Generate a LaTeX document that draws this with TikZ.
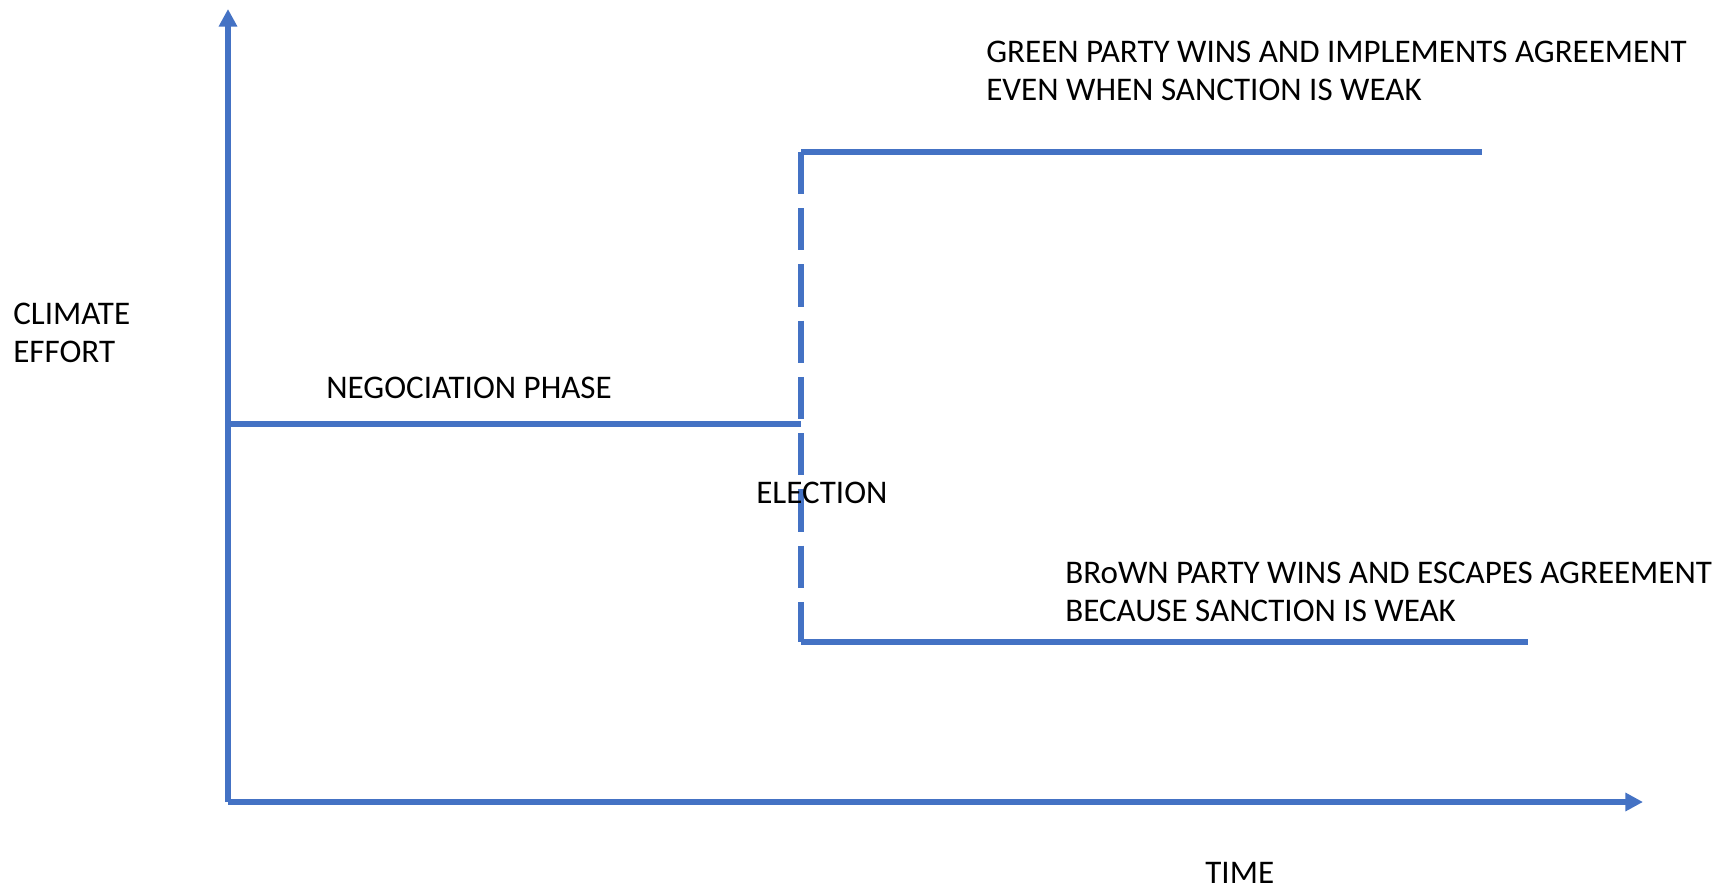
\documentclass[tikz,border=0pt]{standalone}
\usepackage{fontspec}
\setmainfont{Carlito}
\usepackage{tikz}
\usetikzlibrary{arrows.meta}
\usetikzlibrary{positioning}

\definecolor{effortblue}{HTML}{4472C4}

\begin{document}
\begin{tikzpicture}[x=0.02cm, y=-0.02cm,
    line/.style={draw=effortblue, line width=3.5pt},
    label/.style={anchor=west, align=left, inner sep=0pt, font=\fontsize{18.8}{21.8}\selectfont}]

        % Frame of the picture
        \useasboundingbox (0, 0) rectangle (1715, 889);

        % Election time on the time axis
        \def\telect{801}

        % Effort levels
        \def\negot{424}
        \def\green{152}
        \def\brown{642}

        % Axes
        \coordinate (origin) at (228, 802);
        \coordinate (ytop) at (228, 9);
        \coordinate (xend) at (1643, 802);
        \draw[line, -{Triangle[length=10pt, width=10pt]}] (origin) -- (ytop);
        \draw[line, -{Triangle[length=10pt, width=10pt]}] (origin) -- (xend);

        % Negociation phase
        \coordinate (n0) at (228, \negot);
        \coordinate (n1) at (\telect, \negot);
        \draw[line] (n0) -- (n1);

        % Election splits into the two outcomes
        \coordinate (g0) at (\telect, \green);
        \coordinate (g1) at (1482, \green);
        \coordinate (b0) at (\telect, \brown);
        \coordinate (b1) at (1528, \brown);
        \draw[line, dash pattern=on 24pt off 8pt] (g0) -- (b0);
        \draw[line] (g0) -- (g1);
        \draw[line] (b0) -- (b1);

        % Labels
        \node[label] (yname) at (13, 333) {CLIMATE\\EFFORT};
        \node[label] (negname) at (326, 388) {NEGOCIATION PHASE};
        \node[label] (elecname) at (756, 493) {ELECTION};
        \node[label] (greenname) at (986, 71) {GREEN PARTY WINS AND IMPLEMENTS AGREEMENT\\EVEN WHEN SANCTION IS WEAK};
        \node[label] (brownname) at (1065, 592) {BRoWN PARTY WINS AND ESCAPES AGREEMENT\\BECAUSE SANCTION IS WEAK};
        \node[label] (xname) at (1205, 873) {TIME};

      \end{tikzpicture}
\end{document}
